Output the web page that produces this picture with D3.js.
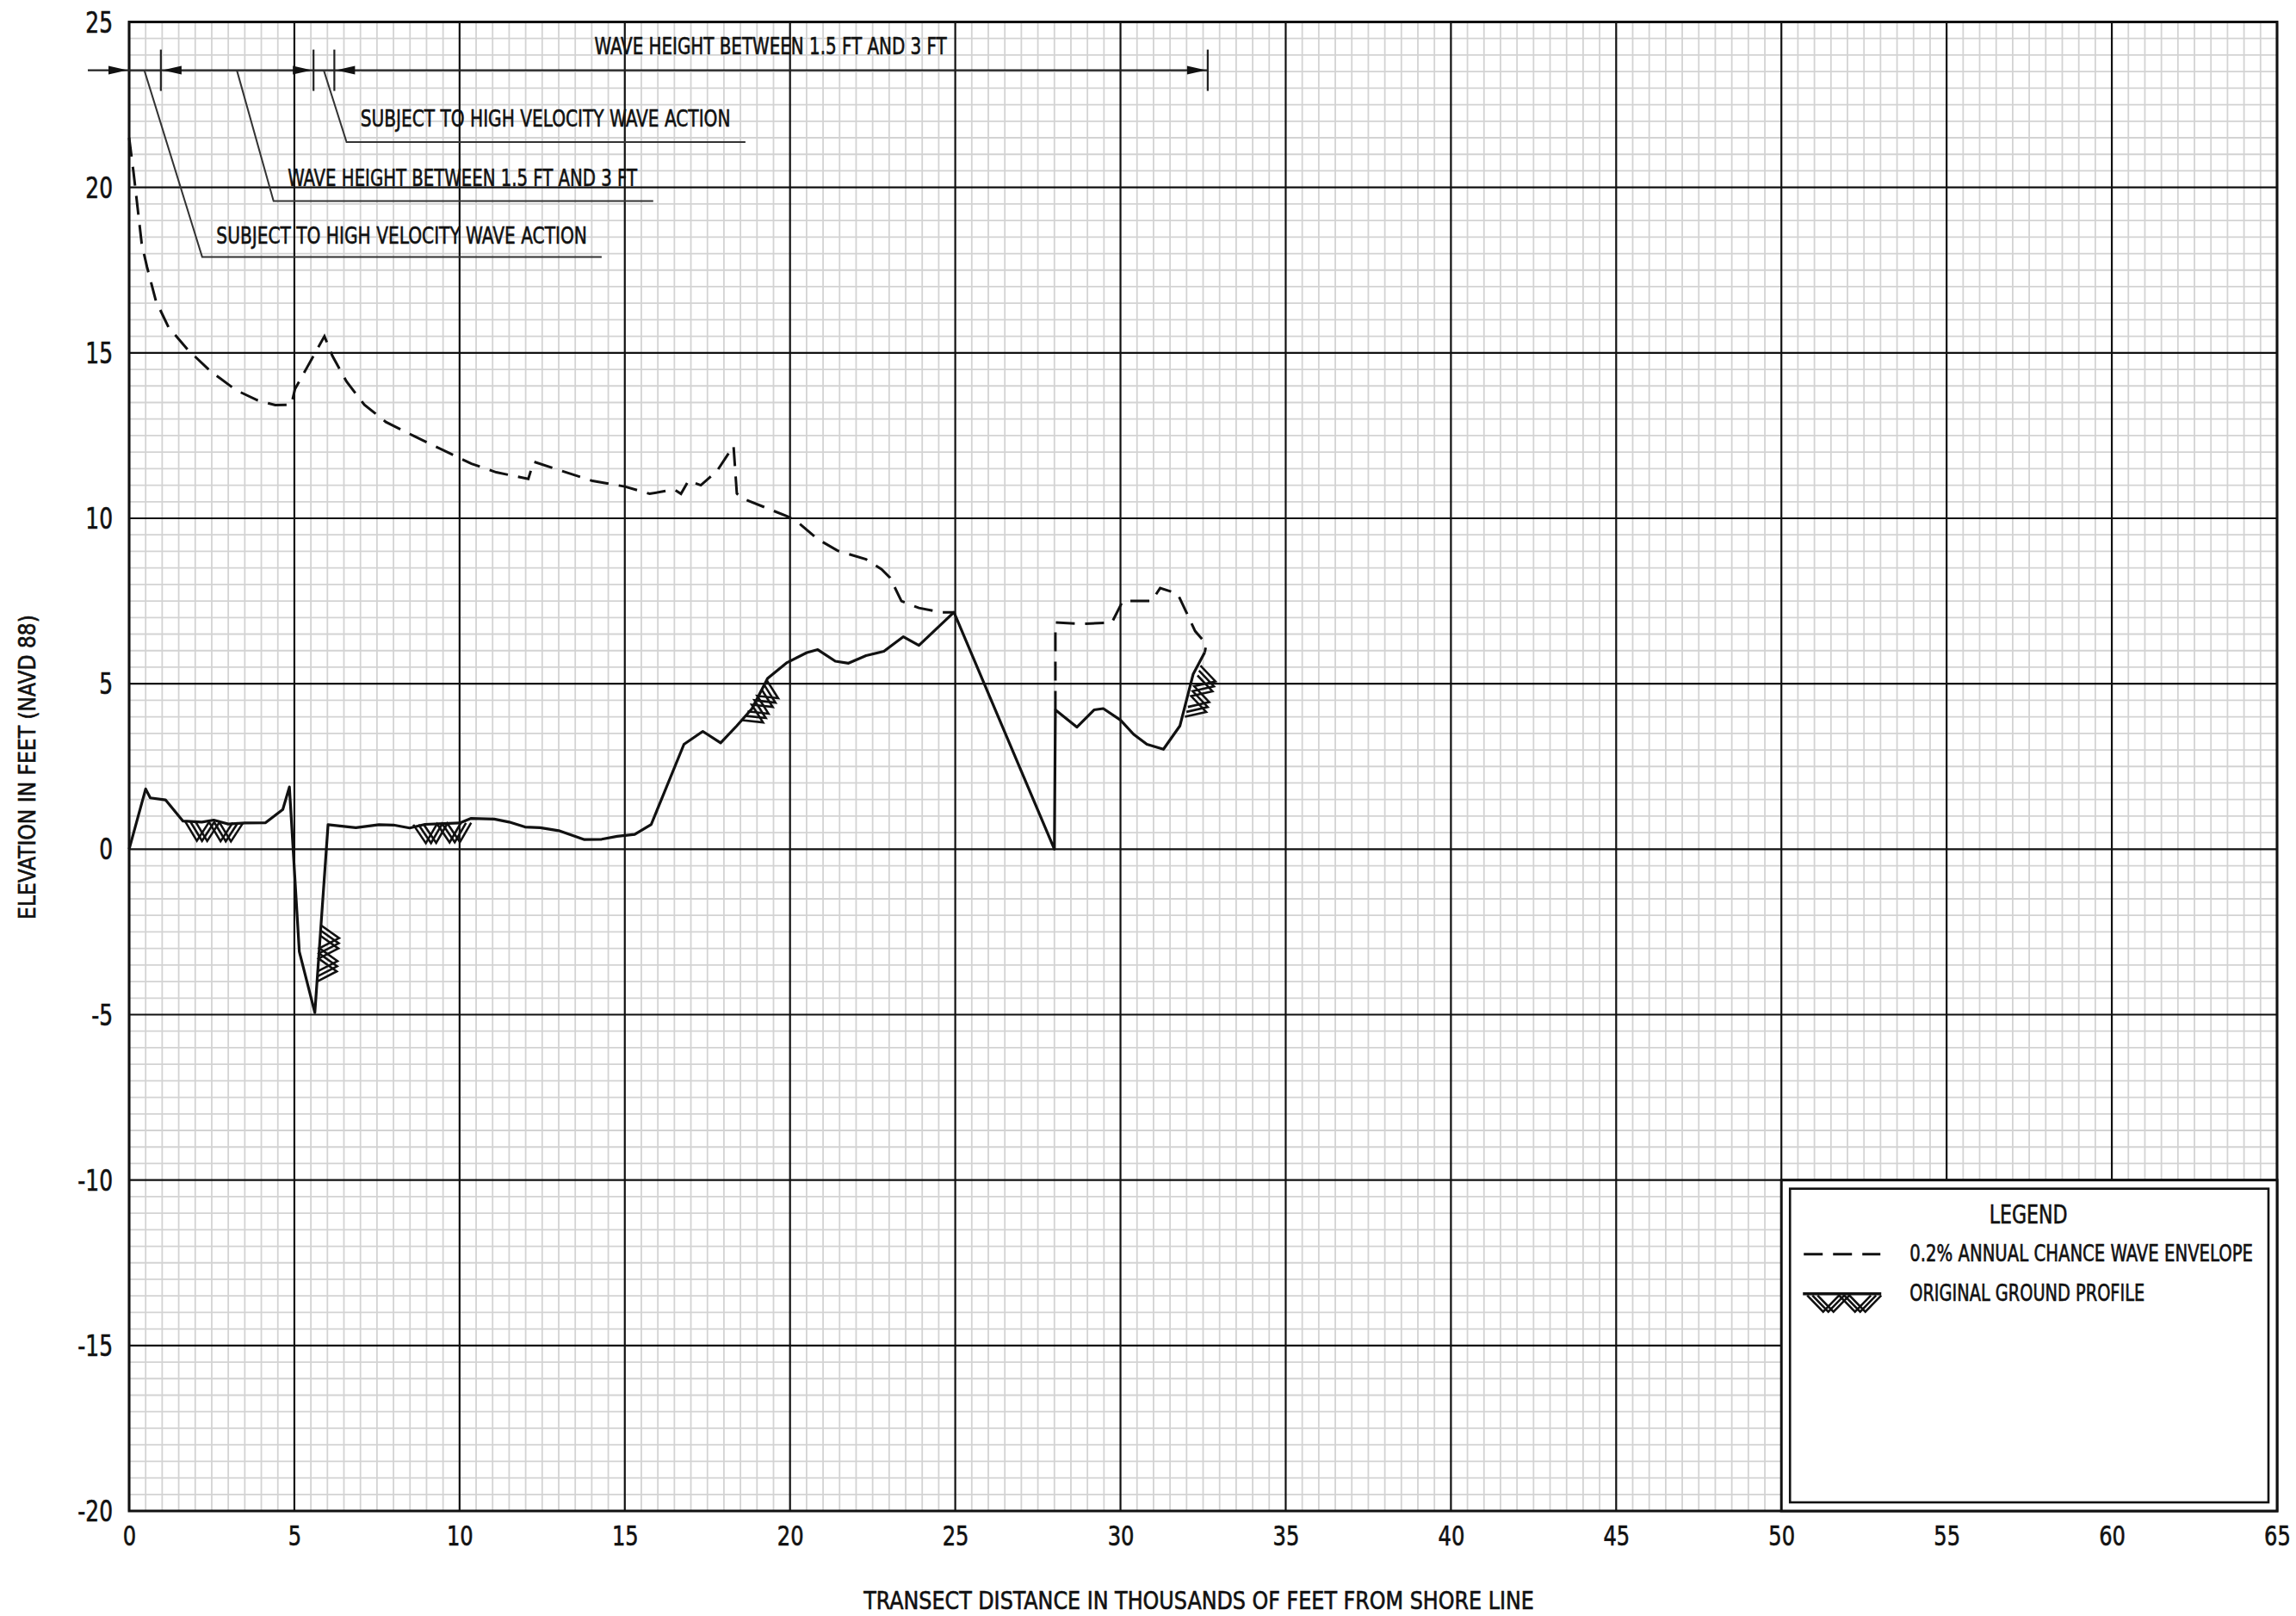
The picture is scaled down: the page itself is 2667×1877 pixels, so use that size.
<!DOCTYPE html>
<html>
<head>
<meta charset="utf-8">
<script src="https://cdn.jsdelivr.net/npm/d3@7"></script>
<style>
  html, body { margin: 0; padding: 0; background: #fff; }
  svg { display: block; }
  text { font-family: "Liberation Sans Narrow", "Arial Narrow", "DejaVu Sans Condensed", "DejaVu Sans", sans-serif;
         fill: #111; stroke: #111; stroke-width: 0.6px; }
</style>
</head>
<body>
<svg id="chart" width="2667" height="1877"></svg>
<script>
// Axis ticks (thousands of feet / feet NAVD 88)
const xTicks = [0, 5, 10, 15, 20, 25, 30, 35, 40, 45, 50, 55, 60, 65];
const yTicks = [25, 20, 15, 10, 5, 0, -5, -10, -15, -20];

// Ground profile along the transect: [distance (1000 ft), elevation (ft)]
const groundProfile = [
  [0, 0], [0.5, 1.82], [0.64, 1.55], [1.1, 1.49], [1.63, 0.85], [2.2, 0.82],
  [2.56, 0.88], [3.0, 0.76], [3.5, 0.79], [4.13, 0.8], [4.65, 1.2], [4.85, 1.88],
  [5.15, -3.1], [5.62, -4.94], [6.02, 0.74], [6.86, 0.65], [7.56, 0.74], [8.0, 0.73],
  [8.49, 0.64], [8.95, 0.75], [10.0, 0.79], [10.35, 0.93], [11.05, 0.91], [11.5, 0.82],
  [11.98, 0.67], [12.44, 0.65], [13.0, 0.56], [13.78, 0.29], [14.3, 0.3], [14.77, 0.39],
  [15.3, 0.45], [15.8, 0.75], [16.79, 3.17], [17.36, 3.56], [17.9, 3.21], [18.39, 3.73],
  [18.85, 4.25], [19.32, 5.16], [19.91, 5.64], [20.51, 5.94], [20.84, 6.03], [21.37, 5.68],
  [21.77, 5.62], [22.3, 5.85], [22.84, 5.98], [23.43, 6.42], [23.9, 6.16], [24.96, 7.16],
  [28.0, 0], [28.03, 4.21], [28.68, 3.69], [29.2, 4.21], [29.48, 4.25], [30.0, 3.9],
  [30.4, 3.47], [30.8, 3.17], [31.3, 3.02], [31.8, 3.73], [32.2, 5.29], [32.55, 5.95]
];

// 0.2% annual chance wave envelope, two reaches
const envelopeReach1 = [
  [0, 21.5], [0.13, 20.48], [0.22, 19.7], [0.38, 18.3], [0.54, 17.6], [0.81, 16.57],
  [1.19, 15.78], [1.78, 15.09], [2.48, 14.43], [3.24, 13.87], [3.88, 13.57], [4.42, 13.42],
  [4.91, 13.43], [5.02, 13.91], [5.39, 14.57], [5.91, 15.5], [6.15, 14.91], [6.58, 14.13],
  [7.12, 13.43], [7.77, 12.91], [8.63, 12.48], [9.71, 11.96], [10.36, 11.65], [11.11, 11.39],
  [12.08, 11.19], [12.24, 11.71], [12.94, 11.48], [14.02, 11.13], [15.0, 10.96], [15.75, 10.74],
  [16.5, 10.87], [16.7, 10.74], [16.93, 11.14], [17.08, 11.08], [17.3, 11.0], [17.79, 11.43],
  [18.29, 12.19], [18.39, 10.75], [18.52, 10.62], [19.91, 10.06], [20.18, 9.93], [20.84, 9.37],
  [21.44, 9.02], [22.3, 8.76], [22.77, 8.46], [23.03, 8.2], [23.37, 7.5], [23.9, 7.29],
  [24.56, 7.16], [24.96, 7.16]
];
const envelopeReach2 = [
  [28.03, 4.21], [28.03, 6.85], [28.81, 6.81], [29.74, 6.85], [30.07, 7.5], [30.94, 7.5],
  [31.2, 7.89], [31.73, 7.72], [32.26, 6.59], [32.6, 6.2], [32.55, 5.95]
];

// Original ground symbols: segment along the profile [start, end]
const groundSymbols = [
  [[1.7, 0.83], [3.45, 0.8]],
  [[8.6, 0.74], [10.35, 0.8]],
  [[5.686, -4.0], [5.806, -2.3]],
  [[18.55, 3.9], [19.3, 5.1]],
  [[31.95, 4.0], [32.42, 5.55]]
];

// Zone dimension line (elevation of line, extent, break marks, arrows)
const dimElevation = 23.54;
const dimExtent = [-1.25, 32.64];
const zoneBreaks = [0.96, 5.58, 6.21, 32.64];
const zoneArrows = [[0, 1], [0.96, -1], [5.58, 1], [6.21, -1], [32.64, 1]];

// Zone labels with leader lines
const zoneLabels = [
  "SUBJECT TO HIGH VELOCITY WAVE ACTION",
  "WAVE HEIGHT BETWEEN 1.5 FT AND 3 FT",
  "SUBJECT TO HIGH VELOCITY WAVE ACTION",
  "WAVE HEIGHT BETWEEN 1.5 FT AND 3 FT"
];
const labelStart = [2.64, 4.8, 7.0, 14.08];
const labelEnd = [13.86, 15.38, 18.2, 24.75];
const labelBaseline = [18.31, 20.04, 21.85, 24.02];
const leaders = [
  [[0.46, 23.54], [2.21, 17.9], [14.3, 17.9]],
  [[3.26, 23.54], [4.37, 19.59], [15.86, 19.59]],
  [[5.89, 23.54], [6.58, 21.37], [18.65, 21.37]]
];

const legendItems = ["0.2% ANNUAL CHANCE WAVE ENVELOPE", "ORIGINAL GROUND PROFILE"];

// ---------------------------------------------------------------
const svg = d3.select("#chart");
const W = 2667, H = 1877;
svg.append("rect").attr("width", W).attr("height", H).attr("fill", "#fff");

const x = d3.scaleLinear().domain([0, 65]).range([150, 2645]);
const y = d3.scaleLinear().domain([-20, 25]).range([1755, 25.5]);

// Squeeze a text horizontally to a target width around its anchor point
function fitWidth(sel, width, rotate) {
  sel.each(function () {
    const t = d3.select(this);
    const px = +t.attr("x") || 0, py = +t.attr("y") || 0;
    const nat = this.getComputedTextLength();
    t.attr("x", 0).attr("y", 0)
      .attr("transform", `translate(${px},${py})${rotate ? ` rotate(${rotate})` : ""} scale(${width / nat},1)`);
  });
}

// Grid: minor every 0.5, major every 5
const grid = svg.append("g");
const minorX = d3.range(0, 65.001, 0.5).filter(v => Math.abs(v % 5) > 1e-6);
const minorY = d3.range(-20, 25.001, 0.5).filter(v => Math.abs(v % 5) > 1e-6);
grid.selectAll("line.mx").data(minorX).join("line")
  .attr("x1", d => x(d)).attr("x2", d => x(d)).attr("y1", y(25)).attr("y2", y(-20))
  .attr("stroke", "#d3d3d3").attr("stroke-width", 1.8);
grid.selectAll("line.my").data(minorY).join("line")
  .attr("y1", d => y(d)).attr("y2", d => y(d)).attr("x1", x(0)).attr("x2", x(65))
  .attr("stroke", "#d3d3d3").attr("stroke-width", 1.8);
grid.selectAll("line.Mx").data(xTicks).join("line")
  .attr("x1", d => x(d)).attr("x2", d => x(d)).attr("y1", y(25)).attr("y2", y(-20))
  .attr("stroke", "#111").attr("stroke-width", 2.2);
grid.selectAll("line.My").data(yTicks).join("line")
  .attr("y1", d => y(d)).attr("y2", d => y(d)).attr("x1", x(0)).attr("x2", x(65))
  .attr("stroke", "#111").attr("stroke-width", 2.2);
svg.append("rect")
  .attr("x", x(0)).attr("y", y(25)).attr("width", x(65) - x(0)).attr("height", y(-20) - y(25))
  .attr("fill", "none").attr("stroke", "#111").attr("stroke-width", 3);

// Axes (labels only, grid carries the lines)
const xAxis = d3.axisBottom(x).tickValues(xTicks).tickSize(0).tickPadding(0).tickFormat(d3.format("d"));
const gx = svg.append("g").attr("transform", `translate(0,${y(-20)})`).call(xAxis);
gx.select(".domain").remove();
gx.selectAll("text").attr("font-size", 32).attr("dy", null).attr("y", 40)
  .attr("font-family", null).attr("fill", "#111")
  .each(function () { fitWidth(d3.select(this), this.getComputedTextLength() * 0.84); });

const yAxis = d3.axisLeft(y).tickValues(yTicks).tickSize(0).tickPadding(0).tickFormat(d => d < 0 ? "-" + Math.abs(d) : d);
const gy = svg.append("g").attr("transform", `translate(${x(0)},0)`).call(yAxis);
gy.select(".domain").remove();
gy.selectAll("text").attr("font-size", 33).attr("x", -19).attr("dy", null)
  .attr("y", function (d) { return y(d) + 12; })
  .attr("font-family", null).attr("fill", "#111")
  .each(function () { fitWidth(d3.select(this), this.getComputedTextLength() * 0.84); });
// axisLeft puts each tick in a translated group; undo the extra offset
gy.selectAll(".tick").attr("transform", null);

// Axis titles
svg.append("text").attr("x", (x(0) + x(65)) / 2 - 5).attr("y", 1869)
  .attr("text-anchor", "middle").attr("font-size", 28)
  .text("TRANSECT DISTANCE IN THOUSANDS OF FEET FROM SHORE LINE")
  .call(fitWidth, 779);
svg.append("text").attr("x", 41).attr("y", 891)
  .attr("text-anchor", "middle").attr("font-size", 27)
  .text("ELEVATION IN FEET (NAVD 88)")
  .call(fitWidth, 354, -90);

// Legend box occupies the lower-right grid cell
const lg = svg.append("g");
const lx0 = x(50), lx1 = x(65), ly0 = y(-10), ly1 = y(-20);
lg.append("rect").attr("x", lx0).attr("y", ly0).attr("width", lx1 - lx0).attr("height", ly1 - ly0)
  .attr("fill", "#fff").attr("stroke", "#111").attr("stroke-width", 3);
lg.append("rect").attr("x", lx0 + 10).attr("y", ly0 + 10).attr("width", lx1 - lx0 - 20).attr("height", ly1 - ly0 - 20)
  .attr("fill", "none").attr("stroke", "#111").attr("stroke-width", 2.6);
lg.append("text").attr("x", (lx0 + lx1) / 2 - 1).attr("y", ly0 + 50).attr("text-anchor", "middle")
  .attr("font-size", 31).text("LEGEND").call(fitWidth, 91);
lg.append("line").attr("x1", lx0 + 26).attr("x2", lx0 + 115).attr("y1", ly0 + 86).attr("y2", ly0 + 86)
  .attr("stroke", "#111").attr("stroke-width", 3).attr("stroke-dasharray", "22,12");
lg.append("text").attr("x", lx0 + 149).attr("y", ly0 + 94).attr("font-size", 26)
  .text(legendItems[0]).call(fitWidth, 399);
lg.append("line").attr("x1", lx0 + 25).attr("x2", lx0 + 116).attr("y1", ly0 + 132).attr("y2", ly0 + 132)
  .attr("stroke", "#111").attr("stroke-width", 3.5);
lg.append("text").attr("x", lx0 + 149).attr("y", ly0 + 140).attr("font-size", 26)
  .text(legendItems[1]).call(fitWidth, 273);

// Ground symbol: three parallel zigzags hanging off one side of a segment
function groundSymbol(g, a, b, segs, depth) {
  const dx = b[0] - a[0], dy = b[1] - a[1], L = Math.hypot(dx, dy);
  const u = [dx / L, dy / L], n = [-u[1], u[0]];
  const off = 6, s = (L - 2 * off) / segs;
  for (let k = 0; k < 3; k++) {
    const pts = d3.range(segs + 1).map(i => {
      const t = k * off + i * s, v = (i % 2) * depth;
      return [a[0] + u[0] * t + n[0] * v, a[1] + u[1] * t + n[1] * v];
    });
    g.append("path").attr("d", d3.line()(pts)).attr("fill", "none")
      .attr("stroke", "#111").attr("stroke-width", 2.6).attr("stroke-linejoin", "miter");
  }
}
groundSymbol(lg, [lx0 + 30, ly0 + 134], [lx0 + 116, ly0 + 134], 4, 19);

// Profiles
const line = d3.line().x(d => x(d[0])).y(d => y(d[1]));
const marks = svg.append("g");
[envelopeReach1, envelopeReach2].forEach(reach => {
  marks.append("path").attr("d", line(reach)).attr("fill", "none")
    .attr("stroke", "#111").attr("stroke-width", 3).attr("stroke-dasharray", "22,12");
});
marks.append("path").attr("d", line(groundProfile)).attr("fill", "none")
  .attr("stroke", "#111").attr("stroke-width", 3.2).attr("stroke-linejoin", "round");
groundSymbols.forEach(([p, q]) => {
  groundSymbol(marks, [x(p[0]), y(p[1])], [x(q[0]), y(q[1])], 4, 22);
});

// Zone dimension line with break marks and arrows
const ann = svg.append("g");
const yd = y(dimElevation);
ann.append("line").attr("x1", x(dimExtent[0])).attr("x2", x(dimExtent[1])).attr("y1", yd).attr("y2", yd)
  .attr("stroke", "#222").attr("stroke-width", 2.2);
ann.selectAll("line.brk").data(zoneBreaks).join("line")
  .attr("x1", d => x(d)).attr("x2", d => x(d)).attr("y1", yd - 24).attr("y2", yd + 24)
  .attr("stroke", "#222").attr("stroke-width", 2.2);
ann.selectAll("path.arr").data(zoneArrows).join("path")
  .attr("d", ([v, dir]) => {
    const tx = x(v) - dir * 2;
    return `M${tx},${yd} L${tx - dir * 22},${yd - 5} L${tx - dir * 22},${yd + 5} Z`;
  })
  .attr("fill", "#111");
leaders.forEach(pts => {
  ann.append("path").attr("d", line(pts)).attr("fill", "none")
    .attr("stroke", "#333").attr("stroke-width", 2);
});
zoneLabels.forEach((t, i) => {
  ann.append("text").attr("x", x(labelStart[i])).attr("y", y(labelBaseline[i]))
    .attr("font-size", 27).text(t)
    .call(fitWidth, x(labelEnd[i]) - x(labelStart[i]));
});
</script>
</body>
</html>
